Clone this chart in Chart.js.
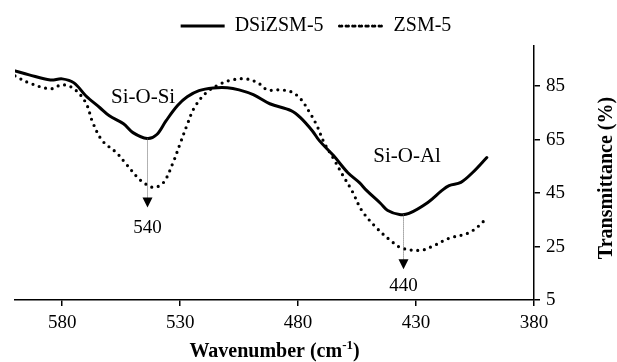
<!DOCTYPE html>
<html>
<head>
<meta charset="utf-8">
<script src="https://cdn.jsdelivr.net/npm/chart.js@4"></script>
<style>
  html, body { margin: 0; padding: 0; background: #fff; }
  #wrap { width: 617px; height: 362px; }
</style>
</head>
<body>
<div id="wrap"><canvas id="ftir"></canvas></div>
<script>
// FTIR spectra
const dsiWave = [600, 594, 585, 580, 575, 570, 564, 560, 554, 550, 544, 540, 536, 531, 527, 522, 516, 510, 505, 499, 492, 483, 479, 474, 471, 465, 459, 454, 451, 445, 442, 437, 433, 425, 419, 416, 411, 406, 400];
const dsiTrans = [90.7, 89.2, 87.3, 87.7, 86.2, 81.4, 76.9, 73.9, 70.9, 67.6, 65.4, 66.8, 72.0, 77.8, 81.0, 83.3, 84.3, 84.4, 83.6, 81.8, 78.4, 75.8, 73.2, 68.3, 64.6, 59.0, 52.7, 48.9, 46.0, 41.1, 38.5, 37.0, 37.4, 41.5, 46.0, 47.8, 49.0, 52.7, 58.3];

const zsmWave = [600, 594, 585, 580, 575, 570, 567, 563, 557, 553, 548, 545, 541, 537, 533, 530, 527, 524, 519, 513, 508, 502, 497, 493, 488, 483, 479, 475, 472, 469, 465, 461, 457, 453, 447, 441, 436, 428, 423, 416, 408, 403, 400];
const zsmTrans = [88.8, 86.2, 84.0, 85.5, 84.0, 78.8, 71.3, 64.6, 60.1, 56.0, 50.8, 48.6, 47.1, 49.0, 56.4, 63.5, 70.6, 76.9, 82.5, 85.8, 87.3, 87.7, 86.2, 83.6, 83.6, 82.9, 80.3, 75.0, 70.2, 63.9, 57.9, 51.6, 45.6, 38.5, 32.2, 27.4, 24.4, 23.6, 25.1, 28.1, 30.0, 33.0, 35.9];

const xTicks = [580, 530, 480, 430, 380];
const yTicks = [5, 25, 45, 65, 85];

// band labels: name, where the name sits, arrow from/to (transmittance), value label
const bandNames = ['Si-O-Si', 'Si-O-Al'];
const bandNameAt = [[545.7, 80.6], [433.8, 58.5]];
const bandWave = [544, 435.5];
const bandArrow = [[65.4, 39.6], [37.0, 16.5]];
const bandValues = ['540', '440'];
const bandValueAt = [31.8, 10.4];

const serif = "'Liberation Serif', 'Times New Roman', serif";
Chart.defaults.font.family = serif;
Chart.defaults.font.size = 19;
Chart.defaults.color = '#000';

function toPoints(xs, ys) {
    return xs.map((v, i) => ({ x: v, y: ys[i] }));
}

const bandMarks = {
    id: 'bandMarks',
    afterDatasetsDraw(chart) {
        const { ctx, scales: { x, y } } = chart;
        ctx.save();
        ctx.fillStyle = '#000';
        ctx.textAlign = 'center';
        ctx.textBaseline = 'middle';
        bandNames.forEach((name, i) => {
            ctx.font = '21px ' + serif;
            ctx.fillText(name, x.getPixelForValue(bandNameAt[i][0]), y.getPixelForValue(bandNameAt[i][1]));

            const px = Math.round(x.getPixelForValue(bandWave[i])) + 0.5;
            const y0 = y.getPixelForValue(bandArrow[i][0]);
            const y1 = y.getPixelForValue(bandArrow[i][1]);
            ctx.strokeStyle = '#666';
            ctx.lineWidth = 1;
            ctx.setLineDash([1, 1]);
            ctx.beginPath();
            ctx.moveTo(px, y0);
            ctx.lineTo(px, y1 - 9);
            ctx.stroke();
            ctx.setLineDash([]);
            ctx.beginPath();
            ctx.moveTo(px - 5, y1 - 10);
            ctx.lineTo(px + 5, y1 - 10);
            ctx.lineTo(px, y1);
            ctx.closePath();
            ctx.fill();

            ctx.font = '19px ' + serif;
            ctx.fillText(bandValues[i], px, y.getPixelForValue(bandValueAt[i]));
        });
        ctx.restore();
    },
    afterDraw(chart) {
        const { ctx, chartArea } = chart;
        ctx.save();
        ctx.fillStyle = '#000';
        ctx.textBaseline = 'alphabetic';
        ctx.textAlign = 'left';

        // x title with superscript
        const big = 'bold 20px ' + serif;
        const small = 'bold 13px ' + serif;
        ctx.font = big;
        const w1 = ctx.measureText('Wavenumber (cm').width;
        const w3 = ctx.measureText(')').width;
        ctx.font = small;
        const w2 = ctx.measureText('-1').width;
        let sx = (chartArea.left + chartArea.right) / 2 - (w1 + w2 + w3) / 2;
        const base = 357;
        ctx.font = big;
        ctx.fillText('Wavenumber (cm', sx, base);
        ctx.font = small;
        ctx.fillText('-1', sx + w1, base - 8);
        ctx.font = big;
        ctx.fillText(')', sx + w1 + w2, base);

        // y title, reading bottom to top
        ctx.translate(607, 178);
        ctx.rotate(-Math.PI / 2);
        ctx.textAlign = 'center';
        ctx.textBaseline = 'middle';
        ctx.font = big;
        ctx.fillText('Transmittance (%)', 0, 0);
        ctx.restore();
    }
};

new Chart(document.getElementById('ftir'), {
    type: 'line',
    data: {
        datasets: [
            {
                label: 'DSiZSM-5',
                data: toPoints(dsiWave, dsiTrans),
                borderColor: '#000',
                backgroundColor: 'rgba(0,0,0,0)',
                borderWidth: 3,
                pointRadius: 0,
                tension: 0.35,
                borderCapStyle: 'round'
            },
            {
                label: 'ZSM-5',
                data: toPoints(zsmWave, zsmTrans),
                borderColor: '#000',
                backgroundColor: 'rgba(0,0,0,0)',
                borderWidth: 3.2,
                borderDash: [0, 6.6],
                borderCapStyle: 'round',
                pointRadius: 0,
                tension: 0.35
            }
        ]
    },
    options: {
        responsive: true,
        maintainAspectRatio: false,
        animation: false,
        layout: { padding: { left: 15, top: 0, right: 0, bottom: 0 } },
        plugins: {
            legend: {
                position: 'top',
                labels: {
                    boxWidth: 44,
                    boxHeight: 0,
                    padding: 16,
                    color: '#000',
                    font: { size: 20, family: serif }
                }
            },
            tooltip: { enabled: false }
        },
        scales: {
            x: {
                type: 'linear',
                reverse: true,
                min: 380,
                max: 600,
                afterBuildTicks: (scale) => { scale.ticks = xTicks.map(v => ({ value: v })); },
                afterFit: (scale) => { scale.height = 62; },
                grid: { drawOnChartArea: false, drawTicks: true, tickLength: 6, color: '#000', lineWidth: 1.5 },
                border: { color: '#000', width: 1.5 },
                ticks: { padding: 6, maxRotation: 0, color: '#000', font: { size: 19 } },
                title: { display: false }
            },
            y: {
                position: 'right',
                min: 5,
                max: 100,
                afterBuildTicks: (scale) => { scale.ticks = yTicks.map(v => ({ value: v })); },
                afterFit: (scale) => { scale.width = 83; },
                grid: { drawOnChartArea: false, drawTicks: true, tickLength: 6, color: '#000', lineWidth: 1.5 },
                border: { color: '#000', width: 1.5 },
                ticks: { padding: 6, color: '#000', font: { size: 19 } },
                title: { display: false }
            }
        }
    },
    plugins: [bandMarks]
});
</script>
</body>
</html>
